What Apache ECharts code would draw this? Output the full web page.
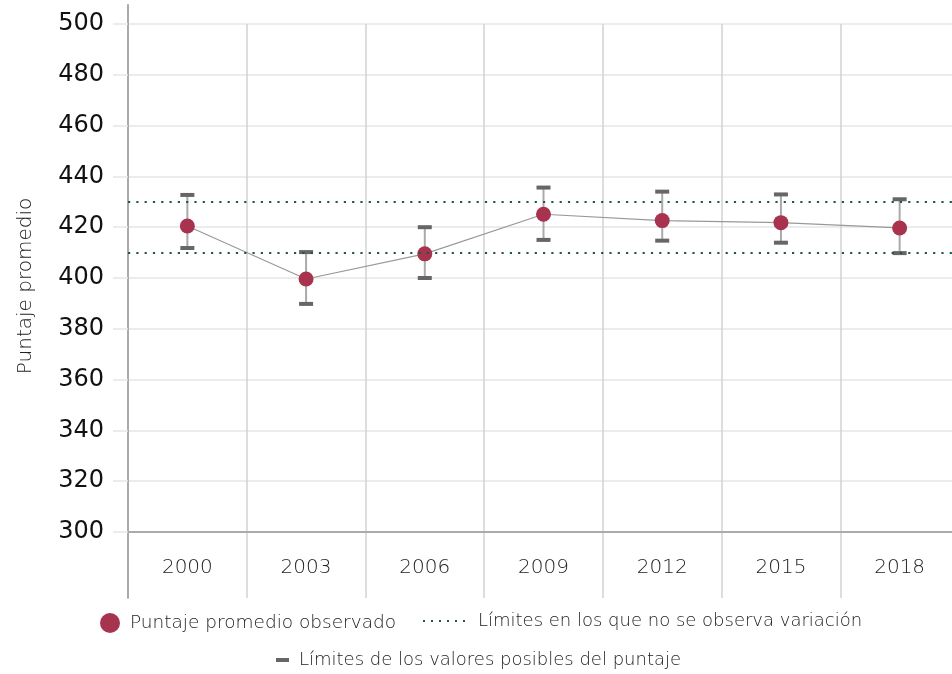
<!DOCTYPE html>
<html>
<head>
<meta charset="utf-8">
<script src="https://cdn.jsdelivr.net/npm/echarts@6/dist/echarts.min.js"></script>
<style>html,body{margin:0;padding:0;background:#fff}#c{width:952px;height:674px}</style>
</head>
<body>
<div id="c"></div>
<script>
const years = ['2000', '2003', '2006', '2009', '2012', '2015', '2018'];
const means = [420.5, 399.6, 409.5, 425.1, 422.6, 421.8, 419.7];
const lower = [411.8, 389.8, 400.0, 415.0, 414.7, 413.9, 409.8];
const upper = [432.7, 410.2, 420.0, 435.6, 434.0, 432.9, 431.0];
const limits = [410, 430];
const yMin = 300, yMax = 500, yStep = 20;

const nameMean = 'Puntaje promedio observado';
const nameLimits = 'Límites en los que no se observa variación';
const nameRange = 'Límites de los valores posibles del puntaje';

const chart = echarts.init(document.getElementById('c'));
const font = 'DejaVu Sans';
const dotPath = 'path://M0,0h2v2h-2zM8,0h2v2h-2zM16,0h2v2h-2zM24,0h2v2h-2zM32,0h2v2h-2zM40,0h2v2h-2z';
const plotW = 831;

chart.setOption({
  backgroundColor: '#fff',
  animation: false,
  grid: [
    {left: 128, width: plotW, top: 24, bottom: 142, outerBoundsMode: 'none', containLabel: false},
    {left: 128, width: plotW, top: 24, bottom: 76, outerBoundsMode: 'none', containLabel: false},
    {left: 128, width: plotW, top: 5, bottom: 76, outerBoundsMode: 'none', containLabel: false}
  ],
  xAxis: [
    {
      gridIndex: 0, type: 'category', data: years, boundaryGap: true,
      axisLine: {show: true, lineStyle: {color: '#aaaaaa', width: 2}},
      axisTick: {show: false},
      axisLabel: {show: true, margin: 26, fontFamily: font, fontSize: 20, fontWeight: 200, color: '#222'},
      splitLine: {show: false}
    },
    {
      gridIndex: 1, type: 'category', data: years, boundaryGap: true,
      axisLine: {show: false}, axisTick: {show: false}, axisLabel: {show: false},
      splitLine: {show: true, interval: 0, lineStyle: {color: '#d2d2d2', width: 1.5}}
    },
    {gridIndex: 2, type: 'category', data: years, show: false}
  ],
  yAxis: [
    {
      gridIndex: 0, type: 'value', min: yMin, max: yMax, interval: yStep,
      name: 'Puntaje promedio', nameLocation: 'middle', nameGap: 92,
      nameTextStyle: {fontFamily: font, fontSize: 20, fontWeight: 200, color: '#222', padding: [0, 16, 0, 0]},
      axisLine: {show: false},
      axisTick: {show: true, length: 15, lineStyle: {color: '#e6e6e6', width: 1.5}},
      axisLabel: {margin: 24, fontFamily: font, fontSize: 24, color: '#111'},
      splitLine: {show: true, lineStyle: {color: '#e6e6e6', width: 1.5}}
    },
    {gridIndex: 1, type: 'value', show: false},
    {
      gridIndex: 2, type: 'value', show: true,
      axisLine: {show: true, lineStyle: {color: '#aaaaaa', width: 2}},
      axisTick: {show: false}, axisLabel: {show: false}, splitLine: {show: false}
    }
  ],
  legend: [
    {
      left: 100, top: 613, padding: 0, itemWidth: 20, itemHeight: 20,
      data: [{name: nameMean, icon: 'circle', itemStyle: {color: '#a8334f', borderWidth: 0}}],
      textStyle: {fontFamily: font, fontSize: 18.5, fontWeight: 200, color: '#222', padding: [0, 0, 0, 5]},
      selectedMode: false
    },
    {
      left: 423, top: 612, padding: 0, itemWidth: 42, itemHeight: 2,
      data: [{name: nameLimits, icon: dotPath, itemStyle: {color: '#1e5a48', borderWidth: 0}}],
      textStyle: {fontFamily: font, fontSize: 18, fontWeight: 200, color: '#222', padding: [0, 0, 0, 8]},
      selectedMode: false
    },
    {
      left: 276, top: 651, padding: 0, itemWidth: 13, itemHeight: 4,
      data: [{name: nameRange, icon: 'rect', itemStyle: {color: '#666666', borderWidth: 0}}],
      textStyle: {fontFamily: font, fontSize: 18, fontWeight: 200, color: '#222', padding: [0, 0, 0, 5]},
      selectedMode: false
    }
  ],
  series: [
    {
      name: nameRange, type: 'custom', xAxisIndex: 0, yAxisIndex: 0, z: 2,
      itemStyle: {color: '#666666'},
      data: years.map((y, i) => [i, lower[i], upper[i]]),
      encode: {x: 0, y: [1, 2]},
      renderItem: function (params, api) {
        const x = api.value(0);
        const lo = api.coord([x, api.value(1)]);
        const hi = api.coord([x, api.value(2)]);
        return {
          type: 'group',
          children: [
            {type: 'line', shape: {x1: lo[0], y1: lo[1], x2: hi[0], y2: hi[1]}, style: {stroke: '#aaaaaa', lineWidth: 2}},
            {type: 'rect', shape: {x: hi[0] - 7, y: hi[1] - 2, width: 14, height: 4}, style: {fill: '#666666'}},
            {type: 'rect', shape: {x: lo[0] - 7, y: lo[1] - 2, width: 14, height: 4}, style: {fill: '#666666'}}
          ]
        };
      }
    },
    {
      name: nameLimits, type: 'line', xAxisIndex: 0, yAxisIndex: 0, z: 1,
      color: '#1e5a48', data: [], symbol: 'none',
      lineStyle: {color: '#1e5a48', width: 2, type: [2, 6.3]},
      markLine: {
        silent: true, symbol: 'none', label: {show: false},
        lineStyle: {color: '#1e5a48', width: 2.2, type: [2.2, 6.1]},
        data: limits.map(v => ({yAxis: v}))
      }
    },
    {
      name: nameMean, type: 'line', xAxisIndex: 0, yAxisIndex: 0, z: 3,
      data: means, color: '#a8334f',
      symbol: 'circle', symbolSize: 15,
      itemStyle: {color: '#a8334f', borderWidth: 0},
      lineStyle: {color: '#999999', width: 1.2}
    }
  ]
});
</script>
</body>
</html>
